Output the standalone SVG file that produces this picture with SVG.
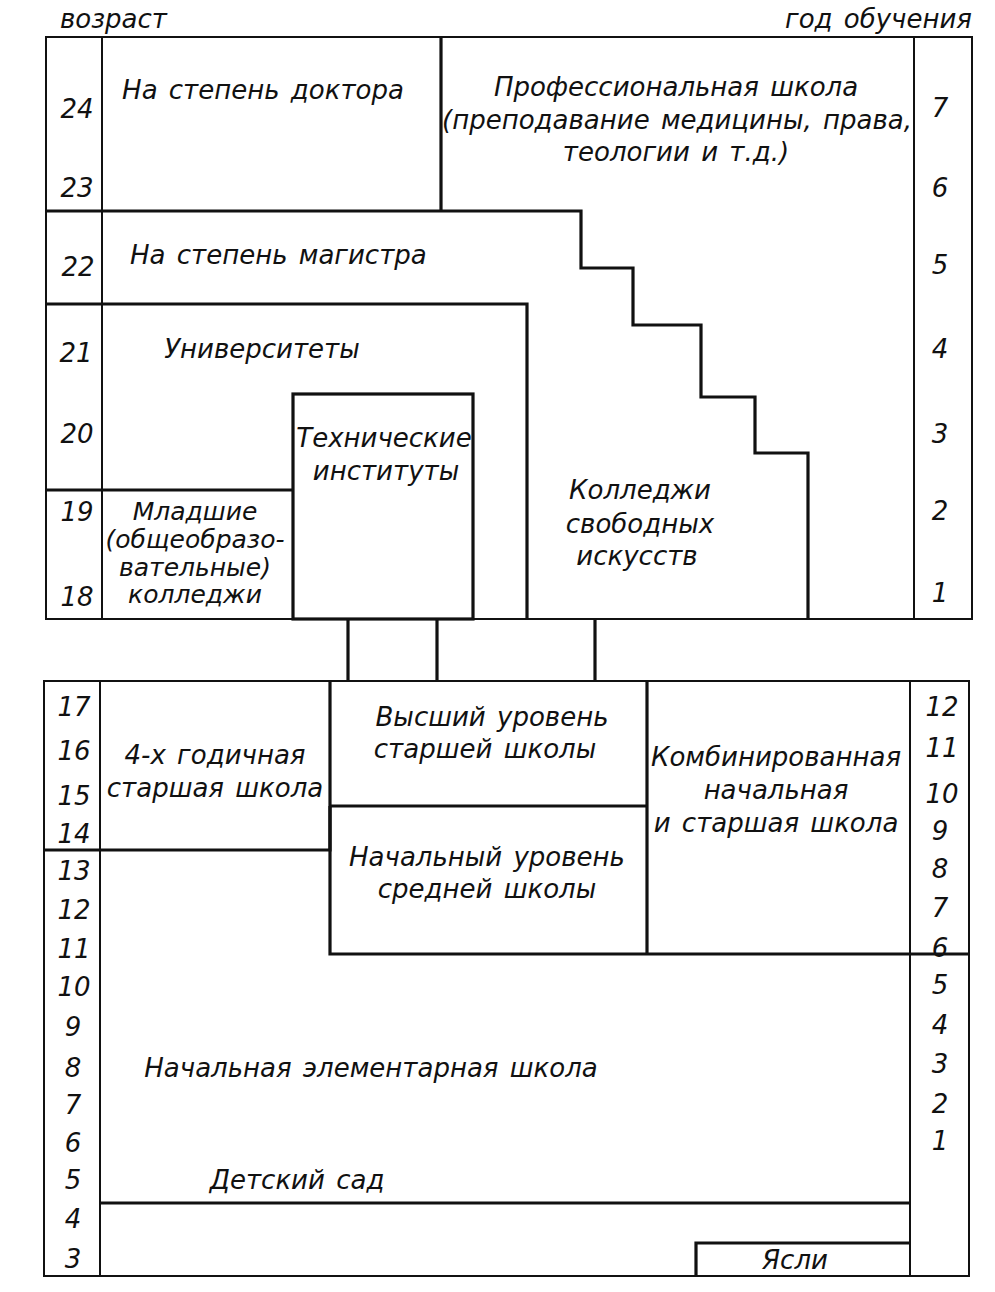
<svg xmlns="http://www.w3.org/2000/svg" width="995" height="1292" viewBox="0 0 995 1292">
<style>
text{font-family:"DejaVu Sans","Liberation Sans",sans-serif;font-style:oblique;font-size:26px;fill:#111;word-spacing:3px}
.m{text-anchor:middle}
.s{font-size:25px}
.thin{fill:none;stroke:#111;stroke-width:2}
.thick{fill:none;stroke:#111;stroke-width:3.2;stroke-linejoin:miter}
</style>
<rect width="995" height="1292" fill="#fff"/>
<g id="headers">
<text x="60" y="28">возраст</text>
<text x="972" y="28" style="text-anchor:end">год обучения</text>
</g>
<g id="upper-frame">
<rect class="thin" x="46" y="37" width="926" height="582"/>
<line class="thin" x1="102" y1="37" x2="102" y2="619"/>
<line class="thin" x1="914" y1="37" x2="914" y2="619"/>
</g>
<g id="upper-ages">
<text class="m" x="77" y="118">24</text>
<text class="m" x="77" y="197">23</text>
<text class="m" x="78" y="276">22</text>
<text class="m" x="76" y="362">21</text>
<text class="m" x="77" y="443">20</text>
<text class="m" x="77" y="521">19</text>
<text class="m" x="77" y="606">18</text>
</g>
<g id="upper-years">
<text class="m" x="940" y="117">7</text>
<text class="m" x="940" y="197">6</text>
<text class="m" x="940" y="274">5</text>
<text class="m" x="940" y="358">4</text>
<text class="m" x="940" y="443">3</text>
<text class="m" x="940" y="520">2</text>
<text class="m" x="940" y="602">1</text>
</g>
<g id="doctor">
<line class="thick" x1="441" y1="37" x2="441" y2="211"/>
<text class="m" x="263" y="99">На степень доктора</text>
</g>
<g id="professional">
<text class="m" x="676" y="96">Профессиональная школа</text>
<text class="m" x="677" y="129">(преподавание медицины, права,</text>
<text class="m" x="676" y="161">теологии и т.д.)</text>
</g>
<g id="master">
<polyline class="thick" points="46,211 581,211 581,268 633,268 633,325 701,325 701,397 755,397 755,453 808,453 808,619"/>
<text x="130" y="264">На степень магистра</text>
</g>
<g id="universities">
<polyline class="thick" points="46,304 527,304 527,619"/>
<text class="m" x="262" y="358">Университеты</text>
</g>
<g id="tech-institutes">
<rect class="thick" x="293" y="394" width="180" height="225"/>
<text class="m" x="384" y="447">Технические</text>
<text class="m" x="386" y="480">институты</text>
</g>
<g id="junior-colleges">
<line class="thick" x1="46" y1="490" x2="293" y2="490"/>
<text class="m s" x="195" y="520">Младшие</text>
<text class="m s" x="195" y="548">(общеобразо-</text>
<text class="m s" x="195" y="576">вательные)</text>
<text class="m s" x="195" y="603">колледжи</text>
</g>
<g id="liberal-arts">
<text class="m" x="640" y="499">Колледжи</text>
<text class="m" x="640" y="533">свободных</text>
<text class="m" x="637" y="565">искусств</text>
</g>
<g id="connectors">
<line class="thick" x1="348" y1="619" x2="348" y2="681"/>
<line class="thick" x1="437" y1="619" x2="437" y2="681"/>
<line class="thick" x1="595" y1="619" x2="595" y2="681"/>
</g>
<g id="lower-frame">
<rect class="thin" x="44" y="681" width="925" height="595"/>
<line class="thin" x1="100" y1="681" x2="100" y2="1276"/>
<line class="thin" x1="910" y1="681" x2="910" y2="1276"/>
</g>
<g id="lower-ages">
<text class="m" x="74" y="716">17</text>
<text class="m" x="74" y="760">16</text>
<text class="m" x="74" y="805">15</text>
<text class="m" x="74" y="843">14</text>
<text class="m" x="74" y="880">13</text>
<text class="m" x="74" y="919">12</text>
<text class="m" x="74" y="958">11</text>
<text class="m" x="74" y="996">10</text>
<text class="m" x="73" y="1036">9</text>
<text class="m" x="73" y="1077">8</text>
<text class="m" x="73" y="1114">7</text>
<text class="m" x="73" y="1152">6</text>
<text class="m" x="73" y="1189">5</text>
<text class="m" x="73" y="1228">4</text>
<text class="m" x="73" y="1268">3</text>
</g>
<g id="lower-years">
<text class="m" x="942" y="716">12</text>
<text class="m" x="942" y="757">11</text>
<text class="m" x="942" y="803">10</text>
<text class="m" x="940" y="840">9</text>
<text class="m" x="940" y="878">8</text>
<text class="m" x="940" y="917">7</text>
<text class="m" x="940" y="957">6</text>
<text class="m" x="940" y="994">5</text>
<text class="m" x="940" y="1034">4</text>
<text class="m" x="940" y="1073">3</text>
<text class="m" x="940" y="1113">2</text>
<text class="m" x="940" y="1150">1</text>
</g>
<g id="four-year-high">
<polyline class="thick" points="44,850 330,850 330,681"/>
<text class="m" x="215" y="764">4-х годичная</text>
<text class="m" x="215" y="797">старшая школа</text>
</g>
<g id="senior-high">
<line class="thick" x1="330" y1="806" x2="647" y2="806"/>
<text class="m" x="492" y="726">Высший уровень</text>
<text class="m" x="485" y="758">старшей школы</text>
</g>
<g id="junior-high">
<polyline class="thick" points="330,806 330,954 969,954"/>
<text class="m" x="487" y="866">Начальный уровень</text>
<text class="m" x="487" y="898">средней школы</text>
</g>
<g id="combined">
<line class="thick" x1="647" y1="681" x2="647" y2="954"/>
<text class="m" x="776" y="766">Комбинированная</text>
<text class="m" x="776" y="799">начальная</text>
<text class="m" x="776" y="832">и старшая школа</text>
</g>
<g id="elementary">
<text class="m" x="371" y="1077">Начальная элементарная школа</text>
</g>
<g id="kindergarten">
<line class="thick" x1="100" y1="1203" x2="910" y2="1203"/>
<text class="m" x="297" y="1189">Детский сад</text>
</g>
<g id="nursery">
<polyline class="thick" points="696,1276 696,1243 910,1243"/>
<text class="m" x="795" y="1269">Ясли</text>
</g>
</svg>
